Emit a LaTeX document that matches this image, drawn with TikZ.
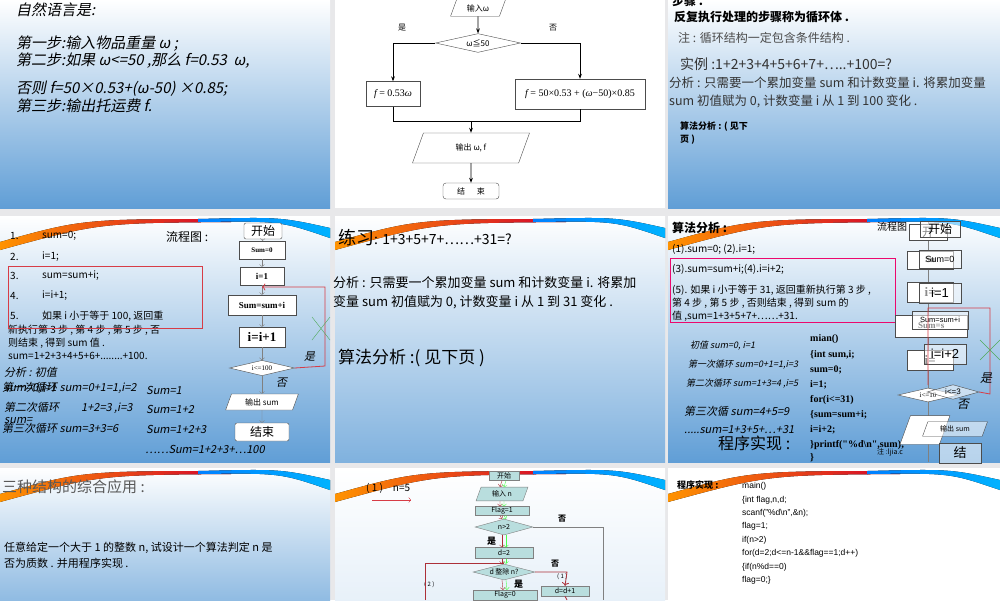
\documentclass[tikz,border=0pt]{standalone}
\usepackage{fontspec}
\setmainfont{Liberation Sans}
\newfontfamily\cjk{Noto Sans CJK SC}
\newfontfamily\cjki{Noto Sans CJK SC}[FakeSlant=0.2]
\newfontfamily\seri{Liberation Serif}
\usetikzlibrary{shapes.geometric,arrows.meta}
\definecolor{bgray}{RGB}{232,232,234}
\definecolor{sblue}{RGB}{96,158,214}
\definecolor{lred}{RGB}{215,60,70}
\definecolor{fgreen}{RGB}{80,170,90}
\definecolor{tealbox}{RGB}{185,222,222}
\newcommand{\fsz}[1]{\fontsize{#1}{#1}\selectfont}
\newcommand{\swoosh}[3]{%
 \fill[left color=orange!85!yellow, right color=purple!70!red] (#1,#2+26) .. controls ({#1+0.25*#3},{#2+3}) .. ({#1+0.7*#3},{#2+3}) -- ({#1+0.7*#3},{#2+6}) .. controls ({#1+0.3*#3},{#2+7}) .. (#1,#2+34) -- cycle;
 \fill[left color=blue!50!cyan, right color=cyan!70!blue] ({#1+0.6*#3},{#2+3}) .. controls ({#1+0.85*#3},{#2+1}) .. ({#1+#3},{#2+12}) -- ({#1+#3},{#2+22}) .. controls ({#1+0.85*#3},{#2+5}) .. ({#1+0.6*#3},{#2+6}) -- cycle;}
\tikzset{
 x=1pt,y=-1pt,
 txt/.style={anchor=west,inner sep=0pt,font=\cjk\fsz{12}},
 itx/.style={anchor=west,inner sep=0pt,font=\cjki\fsz{13}},
 fbox/.style={draw=black!70,fill=white,minimum width=#1,minimum height=16,inner sep=0pt,font=\seri\fsz{10}},
 fpar/.style={trapezium,trapezium left angle=70,trapezium right angle=110,draw=black!70,fill=white,minimum width=#1,minimum height=14,inner sep=1pt,font=\cjk\fsz{8}},
 fdia/.style={diamond,aspect=2.6,draw=black!70,fill=white,inner sep=1pt,minimum width=#1,font=\seri\fsz{9}},
 arr/.style={-{Stealth[length=5pt]},thick},
 loop/.style={draw=lred,thick}
}
\begin{document}
\begin{tikzpicture}
\useasboundingbox (0,0) rectangle (1000,600);
\fill[bgray] (0,0) rectangle (1000,600);
% backgrounds
\fill[top color=white,bottom color=sblue] (0,0) rectangle (330,208);
\fill[white] (335,0) rectangle (665,208);
\fill[top color=white,bottom color=sblue] (668,0) rectangle (1000,208);
\fill[top color=white,bottom color=sblue] (0,216) rectangle (330,462);
\fill[top color=white,bottom color=sblue!80] (335,216) rectangle (665,462);
\fill[top color=white,bottom color=sblue] (668,216) rectangle (1000,462);
\fill[top color=white,bottom color=sblue!70] (0,468) rectangle (330,600);
\fill[top color=white,bottom color=white!85!sblue] (335,468) rectangle (665,600);
\fill[white] (668,468) rectangle (1000,600);
\swoosh{0}{216}{330}\swoosh{335}{216}{330}\swoosh{668}{216}{332}
\swoosh{0}{468}{330}\swoosh{335}{468}{330}\swoosh{668}{468}{332}

% ---- Panel A
\begin{scope}[every node/.style={itx,font=\cjki\fsz{15}}]
\node (a1) at (16,10) {自然语言是:};
\node (a2) at (16,44) {第一步:输入物品重量 ω ;};
\node (a3) at (16,61) {第二步:如果 ω<=50 ,那么 f=0.53\ \ ω,};
\node (a4) at (16,89) {否则 f=50×0.53+(ω-50) ×0.85;};
\node (a5) at (16,106) {第三步:输出托运费 f.};
\end{scope}

% ---- Panel B
\node[fpar=55] (b1) at (478,8) {输入ω};
\node[fdia=85,font=\cjk\fsz{8}] (b2) at (478,43) {ω≦50};
\node[fbox=54,minimum height=25] (b3) at (393,94) {\itshape f\upshape\ = 0.53\itshape ω};
\node[fbox=130,minimum height=30] (b4) at (580,94) {\itshape f\upshape\ = 50×0.53 + (\itshape ω\upshape −50)×0.85};
\node[fpar=90,minimum height=30] (b5) at (471,148) {输出 ω, \itshape f};
\node[fbox=56,rounded corners=3,font=\cjk\fsz{8}] (b6) at (471,191) {结\quad\ \ 束};
\node[txt,font=\cjk\fsz{8}] (b7) at (398,28) {是};
\node[txt,font=\cjk\fsz{8}] (b8) at (549,28) {否};
\coordinate (bm) at (471,121);
\draw[arr] (b1) -- (b2);
\draw[arr] (b2.west) -| (b3.north);
\draw[arr] (b2.east) -| (b4.north);
\draw[thick] (b3.south) |- (bm);
\draw[thick] (b4.south) |- (bm);
\draw[arr] (bm) -- (b5);
\draw[arr] (b5) -- (b6);

% ---- Panel C
\node[txt,font=\cjk\bfseries\fsz{12}] (c0) at (672,1) {步骤 .};
\node[txt,font=\cjk\bfseries\fsz{12}] (c1) at (674,17) {反复执行处理的步骤称为循环体 .};
\node[txt,text=black!70] (c2) at (678,38) {注 : 循环结构一定包含条件结构 .};
\node[txt,font=\cjk\fsz{14},text=black!80] (c3) at (680,64) {实例 :1+2+3+4+5+6+7+…..+100=?};
\node[txt,font=\cjk\fsz{12.5},text=black!80] (c4) at (669,83) {分析 : 只需要一个累加变量 sum 和计数变量 i. 将累加变量};
\node[txt,font=\cjk\fsz{12.5},text=black!80] (c5) at (669,101) {sum 初值赋为 0, 计数变量 i 从 1 到 100 变化 .};
\node[txt,font=\cjk\bfseries\fsz{9}] (c6) at (680,127) {算法分析 : ( 见下};
\node[txt,font=\cjk\bfseries\fsz{9}] (c7) at (680,140) {页 )};

% ---- Panel D
\begin{scope}[every node/.style={txt,font=\cjk\fsz{10}}]
\node (d1) at (10,236) {1.}; \node (d1b) at (42,236) {sum=0;};
\node (d2) at (10,257) {2.}; \node (d2b) at (42,257) {i=1;};
\node (d3) at (10,276) {3.}; \node (d3b) at (42,276) {sum=sum+i;};
\node (d4) at (10,296) {4.}; \node (d4b) at (42,296) {i=i+1;};
\node (d5) at (10,316) {5.}; \node (d5b) at (42,316) {如果 i 小于等于 100, 返回重};
\node (d6) at (8,330) {新执行第 3 步 , 第 4 步 , 第 5 步 , 否};
\node (d7) at (8,343) {则结束 , 得到 sum 值 .};
\node (d8) at (8,356) {sum=1+2+3+4+5+6+........+100.};
\node[font=\cjk\fsz{12}] (d9) at (166,237) {流程图 :};
\end{scope}
\draw[lred] (8,266) rectangle (202,328);
\node[fbox=38,rounded corners=2,font=\cjk\fsz{12}] (df1) at (263,231) {开始};
\node[fbox=46,minimum height=18,font=\seri\bfseries\fsz{7}] (df2) at (262,250) {Sum=0};
\node[fbox=44,minimum height=18,font=\seri\bfseries\fsz{9}] (df3) at (262,276) {i=1};
\node[fbox=68,minimum height=20,font=\seri\bfseries\fsz{9}] (df4) at (262,305) {Sum=sum+i};
\node[fbox=46,minimum height=20,font=\seri\bfseries\fsz{13}] (df5) at (262,337) {i=i+1};
\node[fdia=65,font=\seri\fsz{7}] (df6) at (262,368) {i<=100};
\node[fpar=60,minimum height=16] (df7) at (262,402) {输出 sum};
\node[fbox=54,minimum height=18,rounded corners=2,font=\cjk\fsz{12}] (df8) at (262,432) {结束};
\foreach \a/\b in {df1/df2,df2/df3,df3/df4,df4/df5,df5/df6,df6/df7,df7/df8} \draw[gray,->] (\a) -- (\b);
\coordinate (dl1) at (325,366); \coordinate (dl2) at (325,287); \coordinate (dl3) at (262,287);
\draw[loop,->] (df6.east) -- (dl1) -- (dl2) -- (dl3);
\draw[fgreen] (312,317) -- (330,340) (312,340) -- (330,317);
\node[txt,font=\cjki\fsz{11}] (d10) at (304,357) {是};
\node[txt,font=\cjki\fsz{11}] (d11) at (276,383) {否};
\begin{scope}[every node/.style={itx,font=\cjki\fsz{11}}]
\node (d12) at (4,372) {分析 : 初值};
\node (d13) at (4,388) {sum=0,i=1};
\node (d14) at (2,388) {第一次循环 sum=0+1=1,i=2};
\node (d15) at (4,408) {第二次循环\qquad 1+2=3 ,i=3};
\node (d16) at (4,420) {sum=};
\node (d17) at (2,428) {第三次循环 sum=3+3=6};
\node (d18) at (146,390) {Sum=1};
\node (d19) at (146,409) {Sum=1+2};
\node (d20) at (146,429) {Sum=1+2+3};
\node (d21) at (145,449) {……Sum=1+2+3+…100};
\end{scope}

% ---- Panel E
\node[txt,font=\cjk\fsz{14}] (e1) at (338,238) {{\fsz{18}练习}: 1+3+5+7+……+31=?};
\node[txt,font=\cjk\fsz{13}] (e2) at (333,283) {分析 : 只需要一个累加变量 sum 和计数变量 i. 将累加};
\node[txt,font=\cjk\fsz{13}] (e3) at (333,302) {变量 sum 初值赋为 0, 计数变量 i 从 1 到 31 变化 .};
\node[txt,font=\cjk\fsz{17}] (e4) at (338,358) {算法分析 :( 见下页 )};

% ---- Panel F
\node[txt,font=\cjk\bfseries\fsz{12}] (f1) at (672,228) {算法分析 :};
\node[txt,font=\cjk\fsz{10}] (f2) at (877,227) {流程图 :};
\begin{scope}[every node/.style={txt,font=\cjk\fsz{10}}]
\node (f3) at (672,249) {(1).sum=0; (2).i=1;};
\node (f4) at (672,269) {(3).sum=sum+i;(4).i=i+2;};
\node (f5) at (672,290) {(5). 如果 i 小于等于 31, 返回重新执行第 3 步 ,};
\node (f6) at (672,303) {第 4 步 , 第 5 步 , 否则结束 , 得到 sum 的};
\node (f7) at (672,316) {值 ,sum=1+3+5+7+……+31.};
\end{scope}
\draw[magenta!70!red] (670,258) rectangle (895,322);
\begin{scope}[every node/.style={itx,font=\cjki\fsz{9}}]
\node (f8) at (690,346) {初值 sum=0, i=1};
\node (f9) at (688,365) {第一次循环 sum=0+1=1,i=3};
\node (f10) at (686,384) {第二次循环 sum=1+3=4 ,i=5};
\node[font=\cjki\fsz{11}] (f11) at (684,411) {第三次循 sum=4+5=9};
\node[font=\cjki\fsz{11}] (f12) at (684,430) {.....sum=1+3+5+…+31};
\end{scope}
\node[txt,font=\cjk\fsz{16}] (f13) at (718,443) {程序实现 :};
\begin{scope}[every node/.style={txt,font=\seri\bfseries\fsz{10}}]
\node (g1) at (810,339) {mian()};
\node (g2) at (810,355) {\{int sum,i;};
\node (g3) at (810,370) {sum=0;};
\node (g4) at (810,385) {i=1;};
\node (g5) at (810,400) {for(i<=31)};
\node (g6) at (810,415) {\{sum=sum+i;};
\node (g7) at (810,430) {i=i+2;};
\node (g8) at (810,445) {\}};
\node (g9) at (810,445) {\phantom{\}}printf("\%d\textbackslash n",sum);};
\node (g10) at (810,458) {\}};
\node[font=\cjk\fsz{7}] (g11) at (877,452) {注 :ljia.c};
\end{scope}
\draw[gray] (928,222) -- (928,462);
% back flowchart
\node[fbox=38,font=\cjk\fsz{12},anchor=west] (fb1) at (909,232) {开};
\node[fbox=46,minimum height=18,font=\seri\bfseries\fsz{9},anchor=west] (fb2) at (907,260) {Su};
\node[fbox=46,minimum height=20,font=\seri\bfseries\fsz{13},anchor=west] (fb3) at (907,292) {i=};
\node[fbox=72,minimum height=22,font=\seri\bfseries\fsz{9},anchor=west] (fb4) at (895,326) {Sum=s};
\node[fbox=46,minimum height=20,font=\seri\bfseries\fsz{13},anchor=west] (fb5) at (907,360) {i=};
\node[fdia=60,font=\seri\fsz{7}] (fb6) at (928,395) {i<=10};
\node[fpar=50,anchor=west] (fb7) at (905,430) {};
% front flowchart
\begin{scope}[every node/.append style={fill=tealbox!40,fill opacity=0.55,text opacity=1,draw=tealbox!80!gray}]
\node[fbox=40,font=\cjk\fsz{12}] (ff1) at (940,229) {开始};
\node[fbox=42,minimum height=18,font=\fsz{9}] (ff2) at (940,259) {Sum=0};
\node[fbox=42,minimum height=20,font=\fsz{13}] (ff3) at (940,293) {i=1};
\node[fbox=56,minimum height=18,font=\fsz{7.5}] (ff4) at (940,320) {Sum=sum+i};
\node[fbox=42,minimum height=20,font=\fsz{13}] (ff5) at (945,354) {i=i+2};
\node[fdia=52,font=\fsz{8}] (ff6) at (953,392) {i<=3};
\node[fpar=65,font=\cjk\fsz{7}] (ff7) at (955,429) {输出 sum};
\node[fbox=42,minimum height=20,font=\cjk\fsz{13}] (ff8) at (960,453) {结};
\end{scope}
\coordinate (fl1) at (990,394); \coordinate (fl2) at (990,308); \coordinate (fl3) at (928,308); \coordinate (fl4) at (928,385);
\draw[loop] (ff6.east) -- (fl1) -- (fl2) -- (fl3) -- (fl4);
\draw[fgreen] (980,340) -- (1000,360) (980,360) -- (1000,340);
\node[txt,font=\cjki\fsz{12}] (f14) at (980,378) {是};
\node[txt,font=\cjki\fsz{12}] (f15) at (957,404) {否};

% ---- Panel G
\node[txt,font=\cjk\fsz{15},text=black!65] (h1) at (2,487) {三种结构的综合应用 :};
\node[txt,font=\cjk\fsz{11}] (h2) at (4,548) {任意给定一个大于 1 的整数 n, 试设计一个算法判定 n 是};
\node[txt,font=\cjk\fsz{11}] (h3) at (4,563) {否为质数 . 并用程序实现 .};

% ---- Panel H
\tikzset{hb/.style={draw=gray,fill=tealbox,minimum width=#1,minimum height=9,inner sep=0pt,font=\cjk\fsz{7}}}
\node[txt,font=\cjk\fsz{10}] (i1) at (366,488) {( 1 )\quad n=5};
\coordinate (ia1) at (372,500); \coordinate (ia2) at (411,500);
\draw[lred,->] (ia1) -- (ia2);
\node[hb=30] (i2) at (504,476) {开始};
\node[hb=52,trapezium,trapezium left angle=70,trapezium right angle=110,minimum height=13] (i3) at (502,494) {输入 n};
\node[hb=54] (i4) at (502,511) {Flag=1};
\node[hb=58,diamond,aspect=3.6,minimum height=16] (i5) at (504,527) {n>2};
\node[hb=58,minimum height=11] (i6) at (504,553) {d=2};
\node[hb=62,diamond,aspect=3.9,minimum height=16] (i7) at (504,572) {d 整除 n?};
\node[hb=64,minimum height=10] (i8) at (505,595) {Flag=0};
\node[hb=48,minimum height=10] (i9) at (565,591) {d=d+1};
\node[txt,font=\cjk\bfseries\fsz{9}] (i10) at (487,541) {是};
\node[txt,font=\cjk\bfseries\fsz{9}] (i11) at (514,584) {是};
\node[txt,font=\cjk\bfseries\fsz{8}] (i12) at (551,564) {否};
\node[txt,font=\cjk\bfseries\fsz{8}] (i13) at (558,519) {否};
\node[txt,font=\cjk\fsz{6}] (i14) at (557,577) {( 1 )};
\node[txt,font=\cjk\fsz{6}] (i15) at (424,585) {( 2 )};
\foreach \a/\b in {i2/i3,i3/i4,i4/i5,i5/i6,i6/i7,i7/i8} {\draw[lred!80!black,->] ([xshift=-2pt]\a.south) -- ([xshift=-2pt]\b.north); \draw[green!70,->] ([xshift=2pt]\a.south) -- ([xshift=2pt]\b.north);}
\coordinate (ic1) at (603,527); \coordinate (ic2) at (603,600);
\draw[gray] (i5.east) -- (ic1) -- (ic2);
\coordinate (ir1) at (567,572);
\draw[lred!80!black,thick,->] (i7.east) -- (ir1) -- (i9.north);
\coordinate (ir2) at (567,600);
\draw[lred!80!black,thick] (i9.south) -- (ir2);
\coordinate (il1) at (425,600); \coordinate (il2) at (425,563); \coordinate (il3) at (504,563);
\draw[lred!80!black,thick] (il1) -- (il2) -- (il3);

% ---- Panel I
\node[txt,font=\cjk\bfseries\fsz{9}] (j0) at (677,485) {程序实现 :};
\begin{scope}[every node/.style={txt,font=\fsz{8.5}}]
\node (j1) at (742,486) {main()};
\node (j2) at (742,500) {\{int flag,n,d;};
\node (j3) at (742,513) {scanf("\%d\textbackslash n",\&n);};
\node (j4) at (742,526) {flag=1;};
\node (j5) at (742,540) {if(n>2)};
\node (j6) at (742,553) {for(d=2;d<=n-1\&\&flag==1;d++)};
\node (j7) at (742,567) {\{if(n\%d==0)};
\node (j8) at (742,580) {flag=0;\}};
\end{scope}
\end{tikzpicture}
\end{document}
